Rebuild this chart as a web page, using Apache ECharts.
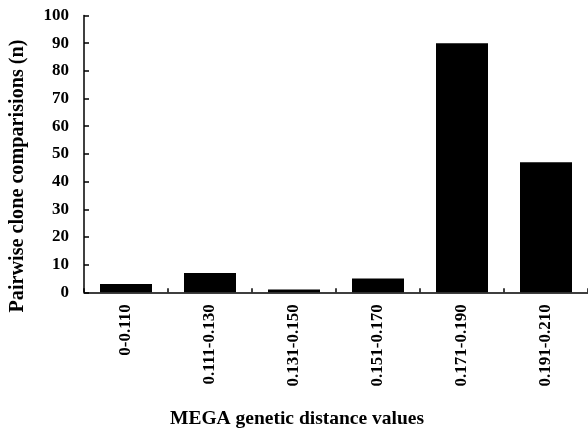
<!DOCTYPE html>
<html><head><meta charset="utf-8">
<script src="https://cdn.jsdelivr.net/npm/echarts@6/dist/echarts.min.js"></script>
<style>html,body{margin:0;padding:0;background:#fff}#c{width:588px;height:428px}</style>
</head><body><div id="c"></div>
<script>
const categories = ['0-0.110','0.111-0.130','0.131-0.150','0.151-0.170','0.171-0.190','0.191-0.210'];
const counts = [3, 7, 1, 5, 90, 47];
const yTicks = {min: 0, max: 100, interval: 10};
const xTitle = 'MEGA genetic distance values';
const yTitle = 'Pairwise clone comparisions (n)';

const font = '"Liberation Serif", "Times New Roman", serif';
const chart = echarts.init(document.getElementById('c'), null, {renderer: 'canvas'});
chart.setOption({
  animation: false,
  backgroundColor: '#fff',
  grid: {left: 84, right: 0, top: 15.5, bottom: 135.7, containLabel: false},
  xAxis: {
    type: 'category',
    data: categories,
    axisLine: {lineStyle: {color: '#000', width: 1.5}},
    axisTick: {show: true, inside: true, length: 4, lineStyle: {color: '#000', width: 1.5}},
    axisLabel: {rotate: 90, margin: 12, color: '#000', fontFamily: font, fontWeight: 'bold', fontSize: 17, interval: 0}
  },
  yAxis: {
    type: 'value',
    min: yTicks.min, max: yTicks.max, interval: yTicks.interval,
    splitLine: {show: false},
    axisLine: {show: true, lineStyle: {color: '#000', width: 1.5}},
    axisTick: {show: true, inside: true, length: 5, lineStyle: {color: '#000', width: 1.5}},
    axisLabel: {margin: 15, color: '#000', fontFamily: font, fontWeight: 'bold', fontSize: 17}
  },
  series: [{
    type: 'bar',
    data: counts,
    barWidth: 52,
    itemStyle: {color: '#000'}
  }],
  graphic: [
    {type: 'text', x: 170, y: 418.5,
     style: {text: xTitle, fill: '#000', font: 'bold 19.5px ' + font, align: 'left', verticalAlign: 'middle'}},
    {type: 'text', x: 17.5, y: 176, rotation: Math.PI / 2,
     style: {text: yTitle, fill: '#000', font: 'bold 20.2px ' + font, align: 'center', verticalAlign: 'middle'}}
  ]
});
</script></body></html>
